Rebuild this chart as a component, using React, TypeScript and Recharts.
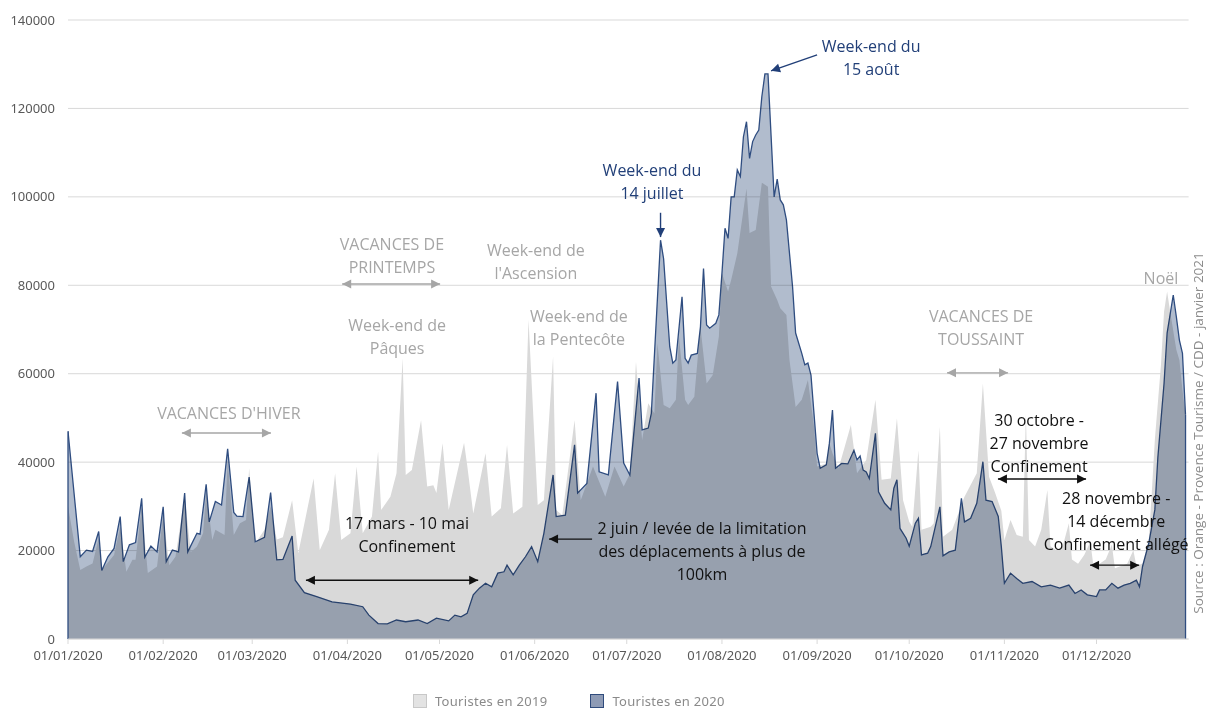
import React from 'react';
import {
  ComposedChart,
  Area,
  XAxis,
  YAxis,
  CartesianGrid,
  ReferenceLine,
  ReferenceDot,
  Legend,
} from 'recharts';

// ---- DATA (day of year 2020, 0 = 01/01) ----
const POINTS_2019: [number, number][] = [
  [0, 30000], [2, 22000], [4, 15600], [6, 16400], [8, 17100], [10, 22800], [11, 15600], [15, 19000],
  [17, 25400], [19, 15200], [21, 17900], [22, 17900], [24, 29900], [26, 14900], [29, 16400], [31, 28000],
  [33, 16700], [35, 18600], [38, 32200], [40, 19700], [42, 20900], [44, 23900], [45, 33300], [47, 22400],
  [48, 24700], [51, 23500], [52, 40500], [54, 23500], [56, 26200], [58, 26900], [59, 38600], [61, 21600],
  [64, 24700], [66, 30000], [68, 22500], [70, 23000], [73, 31400], [75, 19400], [80, 36300], [82, 20100],
  [85, 24700], [87, 37500], [89, 22400], [92, 23900], [94, 39000], [96, 23900], [99, 27700], [101, 42400],
  [102, 29200], [105, 32200], [107, 37500], [109, 63500], [110, 37100], [112, 38200], [115, 49500], [117, 34500],
  [119, 34800], [120, 33000], [122, 44300], [124, 29200], [129, 44400], [130, 39400], [132, 28400], [136, 42000],
  [138, 27700], [141, 29600], [143, 43900], [145, 28400], [148, 29900], [150, 72200], [153, 30300], [155, 31400],
  [158, 63900], [159, 29200], [161, 28000], [165, 49500], [167, 31400], [171, 39000], [175, 32200], [178, 39000],
  [181, 34500], [183, 37300], [185, 62700], [187, 45000], [189, 53300], [191, 51000], [192, 66900], [194, 52900],
  [196, 52200], [198, 54100], [199, 68400], [201, 54100], [202, 52900], [204, 54800], [206, 70600], [208, 57800],
  [210, 59700], [212, 68400], [213, 82700], [215, 78600], [216, 81200], [218, 87200], [221, 101900], [222, 91800],
  [224, 92500], [226, 103200], [228, 102300], [229, 79700], [231, 76700], [232, 74800], [234, 73300], [235, 63100],
  [237, 52500], [239, 54100], [241, 58600], [243, 48000], [244, 39000], [247, 39700], [248, 44300], [249, 42000],
  [251, 38600], [255, 48400], [257, 37500], [260, 40500], [263, 54100], [265, 36000], [268, 36300], [270, 49900],
  [272, 31400], [274, 26500], [275, 25400], [277, 42700], [278, 24700], [281, 25400], [282, 26200], [284, 48000],
  [285, 23100], [288, 24700], [290, 28400], [292, 32200], [296, 37500], [298, 57800], [300, 36700], [302, 33000],
  [304, 29000], [305, 22400], [307, 26900], [309, 23500], [311, 23100], [312, 51000], [313, 22400], [315, 20900],
  [317, 24700], [319, 33700], [320, 21000], [322, 20000], [324, 21000], [326, 26200], [327, 18000], [329, 17000],
  [331, 19000], [333, 22000], [334, 16500], [336, 17000], [338, 18000], [340, 21300], [341, 16000], [343, 16500],
  [345, 17000], [347, 20100], [348, 16500], [350, 17100], [352, 22000], [353, 33000], [354, 45000], [356, 62000],
  [357, 74000], [358, 78600], [359, 74000], [361, 65400], [362, 63100], [363, 56300], [364, 50700],
];

const POINTS_2020: [number, number][] = [
  [0, 47000], [4, 18600], [6, 20100], [8, 19800], [10, 24300], [11, 15500], [13, 18600], [15, 20500],
  [17, 27700], [18, 17500], [20, 21300], [22, 21800], [24, 31800], [25, 18500], [27, 21000], [29, 19700],
  [31, 29900], [32, 17500], [34, 20100], [36, 19700], [38, 33000], [39, 19700], [42, 23900], [43, 23700],
  [45, 35000], [46, 26500], [48, 31100], [50, 30300], [52, 43000], [54, 28600], [55, 27800], [57, 27700],
  [59, 36600], [61, 22000], [64, 23000], [66, 33100], [68, 17900], [70, 18000], [73, 23300], [74, 13300],
  [77, 10500], [81, 9600], [86, 8400], [92, 7900], [96, 7300], [98, 5400], [101, 3500], [104, 3400],
  [107, 4300], [110, 3900], [114, 4300], [117, 3500], [120, 4700], [124, 4100], [126, 5400], [128, 5000],
  [130, 5800], [132, 10000], [134, 11500], [136, 12600], [138, 11800], [140, 14900], [142, 15200], [143, 16700],
  [145, 14500], [147, 16700], [149, 18600], [151, 20900], [153, 17500], [155, 23900], [158, 37100], [159, 27700],
  [162, 28000], [165, 43900], [166, 33000], [169, 35200], [172, 55600], [173, 37800], [176, 37100], [179, 58200],
  [181, 39800], [183, 37100], [186, 59000], [187, 47300], [189, 47700], [190, 51000], [193, 90200], [194, 86000],
  [196, 66100], [197, 62400], [198, 63100], [200, 77400], [201, 63500], [202, 62400], [203, 64200], [205, 64600],
  [206, 70600], [207, 83800], [208, 71000], [209, 70300], [211, 71400], [212, 73300], [213, 82700], [214, 92900],
  [215, 90600], [216, 100000], [217, 100000], [218, 106100], [219, 104600], [220, 113600], [221, 117000], [222, 108700],
  [223, 112500], [224, 114000], [225, 115100], [226, 122700], [227, 127800], [228, 127800], [230, 100000], [231, 104000],
  [232, 99300], [233, 98200], [234, 94800], [236, 79700], [237, 69200], [239, 64600], [240, 62000], [241, 62400],
  [242, 59700], [244, 42000], [245, 38600], [247, 39400], [248, 44300], [249, 51800], [250, 38600], [252, 39700],
  [254, 39600], [256, 42700], [257, 40500], [258, 41400], [259, 38200], [260, 37800], [261, 36300], [263, 46500],
  [264, 33300], [266, 30700], [268, 29200], [269, 34100], [270, 36000], [271, 25000], [273, 22800], [274, 21000],
  [276, 26200], [277, 27300], [278, 19000], [280, 19400], [281, 20900], [284, 29900], [285, 18800], [287, 19700],
  [289, 20100], [291, 31800], [292, 26500], [294, 27300], [296, 30700], [298, 40100], [299, 31400], [301, 31100],
  [303, 27700], [304, 20900], [305, 12600], [307, 14900], [309, 13700], [311, 12600], [314, 13000], [317, 11800],
  [320, 12200], [323, 11500], [326, 12200], [328, 10300], [330, 11100], [332, 10000], [335, 9600], [336, 11100],
  [338, 11100], [340, 12600], [342, 11500], [344, 12200], [346, 12600], [348, 13300], [349, 11800], [350, 16400],
  [352, 21600], [354, 29200], [355, 41200], [357, 57800], [358, 69200], [360, 77800], [361, 72900], [362, 67600],
  [363, 64600], [364, 50700],
];

const MONTH_START_DAYS = [0, 31, 60, 91, 121, 152, 182, 213, 244, 274, 305, 335];
const MONTH_TICK_LABELS = [
  '01/01/2020', '01/02/2020', '01/03/2020', '01/04/2020', '01/05/2020', '01/06/2020',
  '01/07/2020', '01/08/2020', '01/09/2020', '01/10/2020', '01/11/2020', '01/12/2020',
];
const Y_TICKS = [0, 20000, 40000, 60000, 80000, 100000, 120000, 140000];
const SERIES_NAMES = ['Touristes en 2019', 'Touristes en 2020'];
const SOURCE_TEXT = 'Source : Orange - Provence Tourisme  / CDD - janvier 2021';

// ---- Annotations (placed in data units) ----
const GRAY = '#a6a6a6';
const BLUE = '#213f78';
const BLACK = '#111111';

const NOTES: { day: number; value: number; lines: string[]; color: string }[] = [
  { day: 52.4, value: 51100, lines: ["VACANCES D'HIVER"], color: GRAY },
  { day: 105.5, value: 89300, lines: ['VACANCES DE', 'PRINTEMPS'], color: GRAY },
  { day: 107.2, value: 71000, lines: ['Week-end de', 'Pâques'], color: GRAY },
  { day: 152.4, value: 88000, lines: ['Week-end de', "l'Ascension"], color: GRAY },
  { day: 166.4, value: 73100, lines: ['Week-end de', 'la Pentecôte'], color: GRAY },
  { day: 190.2, value: 106100, lines: ['Week-end du', '14 juillet'], color: BLUE },
  { day: 261.6, value: 134100, lines: ['Week-end du', '15 août'], color: BLUE },
  { day: 297.4, value: 73100, lines: ['VACANCES DE', 'TOUSSAINT'], color: GRAY },
  { day: 356.0, value: 81700, lines: ['Noël'], color: GRAY },
  { day: 110.4, value: 26200, lines: ['17 mars - 10 mai', 'Confinement'], color: BLACK },
  { day: 206.5, value: 25100, lines: ['2 juin / levée de la limitation', 'des déplacements à plus de', '100km'], color: BLACK },
  { day: 316.3, value: 49500, lines: ['30 octobre -', '27 novembre', 'Confinement'], color: BLACK },
  { day: 341.4, value: 31900, lines: ['28 novembre -', '14 décembre', 'Confinement allégé'], color: BLACK },
];

const ARROWS: { from: [number, number]; to: [number, number]; both: boolean; color: string }[] = [
  { from: [37.1, 46600], to: [66.1, 46600], both: true, color: GRAY },
  { from: [89.3, 80300], to: [121.2, 80300], both: true, color: GRAY },
  { from: [286.3, 60200], to: [306.2, 60200], both: true, color: GRAY },
  { from: [77.5, 13300], to: [133.6, 13300], both: true, color: BLACK },
  { from: [170.7, 22600], to: [156.7, 22600], both: false, color: BLACK },
  { from: [302.9, 36200], to: [331.6, 36200], both: true, color: BLACK },
  { from: [332.9, 16700], to: [348.9, 16700], both: true, color: BLACK },
  { from: [193, 96400], to: [193, 90900], both: false, color: BLUE },
  { from: [244, 132100], to: [229, 128500], both: false, color: BLUE },
];

const data2019 = POINTS_2019.map(([day, v]) => ({ day, v }));
const data2020 = POINTS_2020.map(([day, v]) => ({ day, v }));

const FONT_NOTE = "'Open Sans', 'DejaVu Sans', sans-serif";
const FONT_AXIS = "'Noto Sans', 'DejaVu Sans', sans-serif";

const head = (x: number, y: number, fx: number, fy: number, color: string) => {
  const dx = x - fx;
  const dy = y - fy;
  const len = Math.sqrt(dx * dx + dy * dy) || 1;
  const ux = dx / len;
  const uy = dy / len;
  const L = 9;
  const W = 4.5;
  const bx = x - ux * L;
  const by = y - uy * L;
  const pts = `${x},${y} ${bx - uy * W},${by + ux * W} ${bx + uy * W},${by - ux * W}`;
  return <polygon points={pts} fill={color} />;
};

const makeArrowShape = (both: boolean, color: string) => (props: any) => {
  const { x1, y1, x2, y2 } = props;
  if ([x1, y1, x2, y2].some((v) => typeof v !== 'number' || isNaN(v))) return <g />;
  return (
    <g>
      <line x1={x1} y1={y1} x2={x2} y2={y2} stroke={color} strokeWidth={1.4} />
      {head(x2, y2, x1, y1, color)}
      {both ? head(x1, y1, x2, y2, color) : null}
    </g>
  );
};

const makeNoteShape = (lines: string[], color: string) => (props: any) => {
  const { cx, cy } = props;
  return (
    <text x={cx} y={cy} textAnchor="middle" fill={color} fontFamily={FONT_NOTE} fontSize={16}>
      {lines.map((l, i) => (
        <tspan key={i} x={cx} dy={i === 0 ? '0.36em' : 23}>
          {l}
        </tspan>
      ))}
    </text>
  );
};

const sourceShape = (props: any) => {
  const { cx, cy } = props;
  return (
    <text
      x={0}
      y={0}
      transform={`translate(${cx + 9}, ${cy}) rotate(-90)`}
      textAnchor="middle"
      dominantBaseline="central"
      fill="#8c8c8c"
      fontFamily={FONT_NOTE}
      fontSize={13.5}
    >
      {SOURCE_TEXT}
    </text>
  );
};

const LegendContent = () => (
  <div
    style={{
      display: 'flex',
      alignItems: 'center',
      paddingLeft: 413,
      paddingTop: 15,
      fontFamily: FONT_AXIS,
      fontSize: 13,
      color: '#8a8a8a',
      letterSpacing: 0.3,
      lineHeight: '14px',
    }}
  >
    <span
      style={{
        width: 12,
        height: 12,
        background: '#e3e3e3',
        border: '1px solid #c8c8c8',
        display: 'inline-block',
        marginRight: 8,
      }}
    />
    <span style={{ marginRight: 43 }}>{SERIES_NAMES[0]}</span>
    <span
      style={{
        width: 12,
        height: 12,
        background: '#8e9bb5',
        border: '1px solid #2f4b7c',
        display: 'inline-block',
        marginRight: 8,
      }}
    />
    <span>{SERIES_NAMES[1]}</span>
  </div>
);

export default function App() {
  const first2020 = POINTS_2020[0];
  const last2020 = POINTS_2020[POINTS_2020.length - 1];
  return (
    <div style={{ position: 'absolute', left: 0, top: 0, width: 1214, height: 709, background: '#fff' }}>
      <style>{`.area2020 { mix-blend-mode: multiply; }`}</style>
      <ComposedChart width={1214} height={709} margin={{ top: 20, right: 25.4, left: 0, bottom: 0 }}>
        <CartesianGrid horizontal vertical={false} stroke="#d9d9d9" />
        <XAxis
          dataKey="day"
          type="number"
          domain={[0, 365]}
          ticks={MONTH_START_DAYS}
          interval={0}
          allowDataOverflow
          height={40}
          tickFormatter={(d: number) => MONTH_TICK_LABELS[MONTH_START_DAYS.indexOf(d)] ?? ''}
          tick={{ fill: '#595959', fontSize: 13, fontFamily: FONT_AXIS }}
          axisLine={{ stroke: '#d9d9d9' }}
          tickLine={{ stroke: '#d9d9d9' }}
          tickSize={5}
          tickMargin={7}
        />
        <YAxis
          type="number"
          domain={[0, 140000]}
          ticks={Y_TICKS}
          interval={0}
          width={68}
          axisLine={false}
          tickLine={false}
          tickSize={0}
          tickMargin={13}
          tick={{ fill: '#595959', fontSize: 13, fontFamily: FONT_AXIS }}
        />
        <Legend verticalAlign="bottom" height={30} wrapperStyle={{ left: 0, width: 1214 }} content={LegendContent} />
        <Area
          data={data2019}
          dataKey="v"
          name={SERIES_NAMES[0]}
          type="linear"
          stroke="none"
          fill="#d9d9d9"
          fillOpacity={1}
          dot={false}
          activeDot={false}
          isAnimationActive={false}
        />
        <Area
          data={data2020}
          dataKey="v"
          name={SERIES_NAMES[1]}
          type="linear"
          className="area2020"
          stroke="#2f4d80"
          strokeWidth={1.3}
          fill="#b1bccd"
          fillOpacity={1}
          dot={false}
          activeDot={false}
          isAnimationActive={false}
        />
        <ReferenceLine
          segment={[{ x: first2020[0], y: 0 }, { x: first2020[0], y: first2020[1] }]}
          stroke="#2f4d80"
          strokeWidth={1.3}
        />
        <ReferenceLine
          segment={[{ x: last2020[0], y: 0 }, { x: last2020[0], y: last2020[1] }]}
          stroke="#2f4d80"
          strokeWidth={1.3}
        />
        {ARROWS.map((a, i) => (
          <ReferenceLine
            key={`arrow-${i}`}
            segment={[{ x: a.from[0], y: a.from[1] }, { x: a.to[0], y: a.to[1] }]}
            shape={makeArrowShape(a.both, a.color)}
          />
        ))}
        {NOTES.map((n, i) => (
          <ReferenceDot
            key={`note-${i}`}
            x={n.day}
            y={n.value}
            r={0}
            ifOverflow="visible"
            shape={makeNoteShape(n.lines, n.color)}
          />
        ))}
        <ReferenceDot x={365} y={46600} r={0} ifOverflow="visible" shape={sourceShape} />
      </ComposedChart>
    </div>
  );
}
